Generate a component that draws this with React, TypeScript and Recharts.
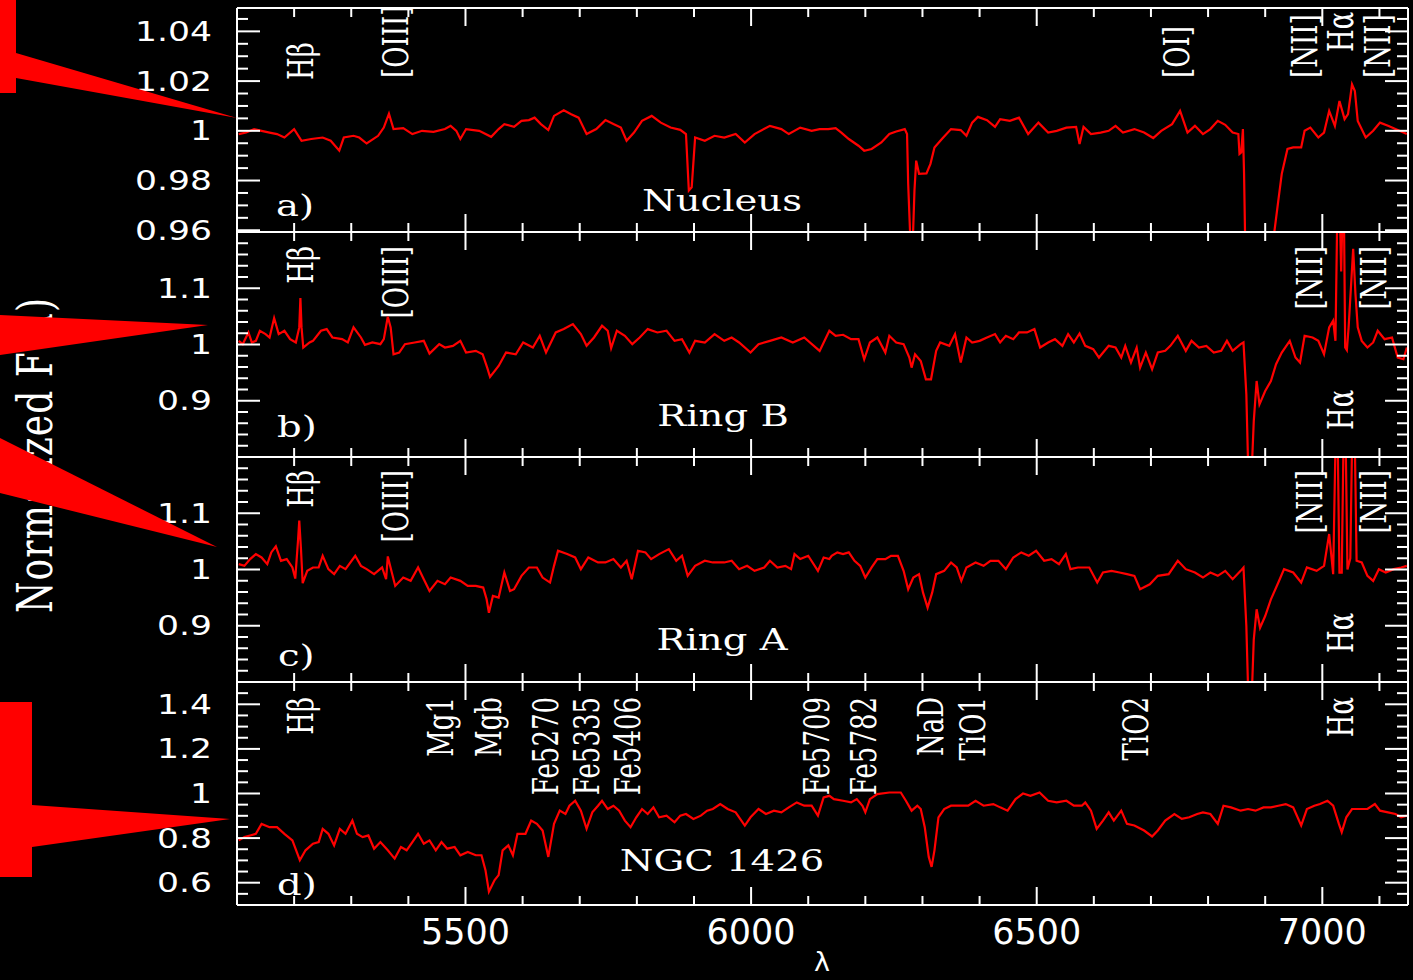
import React from 'react';
import { LineChart, Line, XAxis, YAxis, ReferenceLine } from 'recharts';

document.body.style.margin = '0';
document.body.style.background = '#000';

// wavelength axis
const X_DOMAIN: [number, number] = [5100, 7150];
const X_TICKS = [
  5200, 5300, 5400, 5500, 5600, 5700, 5800, 5900, 6000, 6100, 6200,
  6300, 6400, 6500, 6600, 6700, 6800, 6900, 7000, 7100,
];
const X_MAJOR = [5500, 6000, 6500, 7000];

// y ticks per panel
const A_Y_TICKS = [
  0.96, 0.965, 0.97, 0.975, 0.98, 0.985, 0.99, 0.995, 1, 1.005, 1.01, 1.015,
  1.02, 1.025, 1.03, 1.035, 1.04, 1.045,
];
const A_Y_MAJOR = [0.96, 0.98, 1, 1.02, 1.04];
const BC_Y_TICKS = [
  0.82, 0.84, 0.86, 0.88, 0.9, 0.92, 0.94, 0.96, 0.98, 1, 1.02, 1.04, 1.06,
  1.08, 1.1, 1.12, 1.14, 1.16, 1.18,
];
const BC_Y_MAJOR = [0.9, 1, 1.1];
const D_Y_TICKS = [
  0.55, 0.6, 0.65, 0.7, 0.75, 0.8, 0.85, 0.9, 0.95, 1, 1.05, 1.1, 1.15, 1.2,
  1.25, 1.3, 1.35, 1.4, 1.45,
];
const D_Y_MAJOR = [0.6, 0.8, 1, 1.2, 1.4];

// spectra: [wavelength, normalized flux]
const NUCLEUS: [number, number][] = [
  [5103, 0.9987], [5116, 0.9993], [5130, 1.0007], [5143, 1.0], [5157, 0.9993], [5170, 0.9987],
  [5183, 0.9973], [5200, 1.0007], [5213, 0.996], [5230, 0.9967], [5250, 0.9973], [5264, 0.996],
  [5279, 0.992], [5287, 0.9973], [5304, 0.998], [5314, 0.9973], [5327, 0.9949], [5347, 0.998],
  [5357, 1.0013], [5366, 1.0069], [5374, 1.0007], [5391, 1.0011], [5407, 0.9987], [5424, 1.0],
  [5444, 0.9996], [5464, 1.0007], [5474, 1.002], [5484, 1.0], [5491, 0.9967], [5501, 1.0007],
  [5524, 1.0], [5545, 0.9976], [5558, 1.0007], [5568, 1.0027], [5585, 1.0016], [5598, 1.004],
  [5611, 1.0043], [5621, 1.0053], [5632, 1.0027], [5645, 1.0003], [5655, 1.006], [5672, 1.0083],
  [5685, 1.0067], [5698, 1.0053], [5712, 0.9987], [5729, 1.0007], [5745, 1.0043], [5759, 1.0027],
  [5772, 1.0013], [5782, 0.996], [5795, 0.9993], [5809, 1.004], [5826, 1.006], [5842, 1.0033],
  [5859, 1.0013], [5876, 1.0004], [5886, 0.9987], [5891, 0.976], [5896, 0.9773], [5902, 0.9973],
  [5919, 0.996], [5936, 0.998], [5953, 0.9973], [5973, 0.9987], [5989, 0.9953], [6006, 0.9987],
  [6033, 1.002], [6053, 1.0007], [6066, 0.9987], [6086, 1.0013], [6106, 1.0], [6120, 1.0007],
  [6135, 1.0007], [6148, 1.0011], [6158, 0.9993], [6171, 0.9967], [6188, 0.994], [6198, 0.992],
  [6211, 0.9927], [6228, 0.9953], [6242, 0.9987], [6254, 0.9997], [6269, 1.0007], [6273, 0.9987],
  [6275, 0.9787], [6279, 0.955], [6283, 0.955], [6286, 0.976], [6289, 0.988], [6294, 0.9827],
  [6307, 0.9829], [6314, 0.9867], [6321, 0.9933], [6334, 0.9967], [6350, 1.0007], [6367, 1.0003],
  [6377, 0.998], [6387, 1.0033], [6397, 1.0056], [6413, 1.0043], [6427, 1.0016], [6436, 1.0047],
  [6453, 1.004], [6469, 1.0053], [6485, 0.9987], [6503, 1.0033], [6520, 0.9993], [6535, 1.0],
  [6552, 1.0013], [6569, 1.0016], [6575, 0.9947], [6582, 1.0016], [6595, 0.9987], [6612, 0.9993],
  [6626, 1.0], [6638, 1.002], [6651, 0.9993], [6671, 1.0007], [6688, 0.9993], [6704, 0.9971],
  [6718, 1.0], [6737, 1.0027], [6751, 1.008], [6764, 0.9993], [6777, 1.002], [6791, 0.9987],
  [6804, 1.0007], [6817, 1.004], [6830, 1.0024], [6843, 0.9993], [6853, 0.9987], [6855, 0.9907],
  [6858, 0.9913], [6861, 1.0007], [6863, 0.9827], [6865, 0.955], [6890, 0.95], [6916, 0.9593],
  [6923, 0.972], [6929, 0.9827], [6939, 0.9927], [6949, 0.9933], [6963, 0.9933], [6969, 1.0],
  [6979, 1.0013], [6993, 0.9973], [7003, 0.9993], [7012, 1.008], [7022, 1.002], [7030, 1.012],
  [7039, 1.0047], [7045, 1.0067], [7052, 1.0187], [7057, 1.016], [7062, 1.004], [7076, 0.9973],
  [7089, 1.0], [7101, 1.0033], [7115, 1.002], [7128, 1.0007], [7148, 0.9987],
];

const RING_B: [number, number][] = [
  [5103, 1.0065], [5110, 1.0006], [5120, 1.0214], [5126, 1.0036], [5133, 1.0065], [5140, 1.0244],
  [5150, 1.0185], [5157, 1.0125], [5165, 1.047], [5173, 1.0185], [5183, 1.0244], [5193, 1.0095],
  [5203, 1.0036], [5209, 1.0304], [5211, 1.0827], [5213, 1.0304], [5216, 0.9946], [5227, 1.0036],
  [5233, 1.0065], [5247, 1.0244], [5257, 1.0274], [5267, 1.0125], [5284, 1.0095], [5294, 1.0036],
  [5304, 1.0304], [5317, 1.0125], [5324, 0.9994], [5337, 1.0036], [5351, 1.0006], [5357, 1.0095],
  [5364, 1.0494], [5369, 1.0304], [5374, 0.9827], [5384, 0.9857], [5394, 1.0006], [5411, 1.0036],
  [5427, 1.0065], [5437, 0.9839], [5454, 1.0006], [5464, 0.9946], [5478, 0.9976], [5491, 1.0065],
  [5501, 0.9857], [5518, 0.9887], [5530, 0.9827], [5538, 0.9589], [5543, 0.9423], [5558, 0.9619],
  [5571, 0.9857], [5588, 0.9827], [5601, 1.0036], [5618, 0.9946], [5630, 1.0155], [5641, 0.9857],
  [5658, 1.0214], [5672, 1.0274], [5688, 1.0363], [5702, 1.0185], [5712, 0.9976], [5725, 1.0125],
  [5739, 1.0333], [5749, 1.0244], [5755, 0.9935], [5765, 1.0244], [5779, 1.0155], [5792, 1.0006],
  [5805, 1.0125], [5819, 1.0274], [5836, 1.0214], [5852, 1.0244], [5866, 1.0065], [5879, 1.0095],
  [5892, 0.9857], [5902, 1.0065], [5919, 1.0036], [5936, 1.0185], [5953, 1.0065], [5966, 1.0125],
  [5979, 1.0036], [5999, 0.9857], [6013, 1.0006], [6033, 1.0065], [6053, 1.0125], [6073, 1.0036],
  [6093, 1.0125], [6120, 0.9887], [6137, 1.0244], [6148, 1.0155], [6161, 1.0173], [6175, 1.0095],
  [6188, 1.0095], [6198, 0.9738], [6208, 1.0036], [6221, 1.0125], [6235, 0.9857], [6242, 1.0155],
  [6254, 1.0036], [6267, 1.0006], [6277, 0.9768], [6281, 0.9589], [6287, 0.9827], [6297, 0.9708],
  [6306, 0.9381], [6315, 0.9381], [6324, 0.9887], [6331, 1.0036], [6347, 0.9976], [6357, 1.0185],
  [6367, 0.9679], [6377, 1.0125], [6387, 1.0036], [6400, 1.0065], [6413, 1.0125], [6427, 1.0185],
  [6436, 1.0036], [6446, 1.0155], [6459, 1.0095], [6469, 1.0214], [6483, 1.0214], [6496, 1.0274],
  [6506, 0.9946], [6520, 1.0036], [6532, 1.0095], [6545, 0.9976], [6555, 1.0185], [6565, 1.0036],
  [6575, 1.0196], [6585, 0.9976], [6599, 0.9917], [6609, 0.9768], [6626, 0.9976], [6638, 0.9946],
  [6648, 0.9768], [6655, 0.9976], [6665, 0.9679], [6675, 0.9946], [6681, 0.9589], [6691, 0.9857],
  [6702, 0.956], [6712, 0.9857], [6725, 0.9887], [6734, 0.9976], [6747, 1.0155], [6761, 0.9887],
  [6771, 1.0065], [6784, 0.9946], [6797, 0.9976], [6810, 0.9857], [6823, 0.9887], [6833, 1.0065],
  [6843, 0.9887], [6857, 1.0006], [6862, 1.0036], [6867, 0.9113], [6870, 0.79], [6877, 0.79],
  [6880, 0.8637], [6885, 0.9351], [6890, 0.8935], [6900, 0.9173], [6910, 0.9351], [6919, 0.9649],
  [6929, 0.9857], [6943, 1.0065], [6953, 0.9768], [6961, 0.9679], [6969, 1.0155], [6983, 1.0125],
  [6993, 1.0065], [7003, 0.9827], [7012, 1.0304], [7019, 1.0423], [7023, 1.0065], [7026, 1.22],
  [7031, 1.22], [7033, 1.13], [7035, 1.22], [7038, 1.22], [7040, 0.995], [7043, 0.99],
  [7046, 1.03], [7050, 1.1], [7054, 1.17], [7058, 1.09], [7062, 1.0304], [7069, 1.0065],
  [7079, 0.9946], [7089, 1.0036], [7097, 1.0244], [7109, 1.0095], [7122, 1.0125], [7132, 0.9768],
  [7142, 0.9738], [7148, 0.9946],
];

const RING_A: [number, number][] = [
  [5103, 1.0095], [5113, 1.0065], [5123, 1.0185], [5133, 1.0274], [5143, 1.0214], [5153, 1.0095],
  [5160, 1.0304], [5168, 1.0411], [5177, 1.0155], [5187, 1.0185], [5197, 1.0036], [5202, 0.9839],
  [5207, 1.0542], [5209, 1.0869], [5212, 1.0363], [5215, 0.9756], [5223, 0.9976], [5233, 1.0036],
  [5243, 1.0036], [5250, 1.0244], [5260, 1.0006], [5270, 0.9917], [5280, 1.0065], [5290, 1.0006],
  [5307, 1.0244], [5317, 1.0065], [5327, 1.0006], [5340, 0.9917], [5354, 1.0036], [5361, 0.9827],
  [5364, 1.0232], [5371, 0.9946], [5377, 0.9708], [5391, 0.9857], [5404, 0.9798], [5417, 1.0036],
  [5427, 0.9827], [5437, 0.9619], [5451, 0.9798], [5464, 0.9738], [5474, 0.9857], [5491, 0.9798],
  [5504, 0.9708], [5518, 0.9708], [5531, 0.9679], [5537, 0.947], [5541, 0.9232], [5548, 0.953],
  [5558, 0.95], [5568, 0.9946], [5578, 0.9619], [5585, 0.9649], [5598, 0.9887], [5611, 1.0036],
  [5625, 1.0036], [5635, 0.9857], [5648, 0.9768], [5655, 1.0065], [5662, 1.0333], [5678, 1.0274],
  [5692, 1.0214], [5702, 1.0006], [5715, 1.0214], [5732, 1.0125], [5745, 1.0125], [5759, 1.0185],
  [5772, 1.0036], [5782, 1.0155], [5791, 0.9827], [5802, 1.0333], [5815, 1.0304], [5825, 1.0185],
  [5839, 1.0274], [5856, 1.0363], [5869, 1.0155], [5879, 1.0244], [5889, 0.9887], [5902, 1.0065],
  [5919, 1.0155], [5933, 1.0125], [5953, 1.0125], [5966, 1.0155], [5979, 1.0006], [5993, 1.0065],
  [6006, 0.9976], [6023, 1.0036], [6033, 1.0155], [6046, 1.0036], [6060, 1.0065], [6070, 1.0006],
  [6076, 1.0274], [6086, 1.0185], [6100, 1.0244], [6117, 0.9976], [6127, 1.0214], [6137, 1.0185],
  [6141, 1.0244], [6151, 1.0304], [6161, 1.0274], [6171, 1.0304], [6181, 1.0155], [6191, 1.0065],
  [6200, 0.9857], [6211, 1.0036], [6221, 1.0185], [6235, 1.0185], [6245, 1.0244], [6257, 1.0244],
  [6267, 0.9976], [6275, 0.9649], [6284, 0.9857], [6294, 0.9917], [6301, 0.9589], [6309, 0.9321],
  [6317, 0.9589], [6324, 0.9917], [6338, 0.9976], [6350, 1.0125], [6360, 1.0036], [6368, 0.9798],
  [6377, 1.0036], [6393, 1.0125], [6407, 1.0065], [6419, 1.0155], [6433, 1.0155], [6446, 1.0006],
  [6459, 1.0214], [6473, 1.0304], [6486, 1.0244], [6499, 1.0333], [6513, 1.0155], [6526, 1.0185],
  [6539, 1.0095], [6551, 1.0274], [6559, 1.0006], [6572, 1.0036], [6592, 1.0036], [6606, 0.9768],
  [6616, 0.9946], [6631, 0.9976], [6645, 0.9946], [6658, 0.9917], [6671, 0.9887], [6681, 0.9649],
  [6698, 0.9738], [6712, 0.9887], [6731, 0.9917], [6747, 1.0155], [6761, 1.0006], [6777, 0.9946],
  [6791, 0.9857], [6804, 0.9946], [6817, 0.9887], [6830, 0.9976], [6843, 0.9827], [6857, 0.9976],
  [6862, 1.0036], [6867, 0.8994], [6870, 0.79], [6877, 0.79], [6880, 0.8756], [6885, 0.9292],
  [6891, 0.8964], [6900, 0.9173], [6910, 0.947], [6923, 0.9768], [6933, 1.0006], [6949, 0.9946],
  [6963, 0.9768], [6973, 1.0036], [6990, 0.9976], [7003, 1.0065], [7012, 1.0631], [7019, 0.9917],
  [7023, 1.22], [7027, 1.22], [7030, 0.9946], [7034, 0.9946], [7037, 1.22], [7041, 1.22],
  [7044, 1.0], [7049, 1.02], [7052, 1.22], [7057, 1.22], [7060, 1.0155], [7069, 1.0125],
  [7079, 0.9887], [7089, 0.9798], [7099, 1.0006], [7111, 0.9946], [7125, 1.0006], [7138, 1.0036],
  [7148, 1.0065],
];

const NGC1426: [number, number][] = [
  [5103, 0.7896], [5113, 0.8044], [5123, 0.8119], [5133, 0.8193], [5143, 0.8637], [5157, 0.8489],
  [5170, 0.8489], [5183, 0.8193], [5197, 0.7896], [5210, 0.7007], [5220, 0.7452], [5233, 0.7748],
  [5243, 0.7822], [5250, 0.8415], [5260, 0.8193], [5270, 0.7674], [5280, 0.8415], [5290, 0.8193],
  [5302, 0.8785], [5310, 0.8193], [5320, 0.8044], [5330, 0.8119], [5340, 0.7526], [5351, 0.7822],
  [5364, 0.7452], [5376, 0.7081], [5387, 0.76], [5397, 0.7452], [5407, 0.7822], [5417, 0.8193],
  [5427, 0.7748], [5437, 0.7896], [5448, 0.7452], [5458, 0.7822], [5468, 0.7526], [5481, 0.76],
  [5491, 0.723], [5504, 0.7378], [5518, 0.723], [5528, 0.723], [5535, 0.6563], [5541, 0.56],
  [5551, 0.6119], [5558, 0.6341], [5565, 0.7452], [5575, 0.7674], [5583, 0.723], [5591, 0.8193],
  [5605, 0.8193], [5615, 0.8785], [5625, 0.8637], [5635, 0.8341], [5645, 0.7156], [5655, 0.8637],
  [5665, 0.923], [5675, 0.9081], [5682, 0.9452], [5692, 0.9674], [5702, 0.923], [5712, 0.8415],
  [5722, 0.9156], [5732, 0.9452], [5739, 0.9674], [5749, 0.9304], [5759, 0.9452], [5769, 0.923],
  [5779, 0.8785], [5789, 0.8489], [5799, 0.8933], [5809, 0.9304], [5819, 0.9081], [5829, 0.9378],
  [5839, 0.8933], [5852, 0.9007], [5866, 0.8711], [5876, 0.9007], [5886, 0.9081], [5899, 0.8859],
  [5912, 0.9007], [5923, 0.923], [5933, 0.9304], [5946, 0.9526], [5959, 0.9304], [5973, 0.9156],
  [5989, 0.8563], [5999, 0.8933], [6013, 0.9304], [6026, 0.9081], [6040, 0.923], [6053, 0.9156],
  [6066, 0.9378], [6080, 0.96], [6093, 0.9452], [6106, 0.9452], [6117, 0.9007], [6127, 0.9822],
  [6137, 0.9896], [6145, 0.9748], [6161, 0.9674], [6175, 0.96], [6185, 0.9748], [6195, 0.9452],
  [6200, 0.9156], [6208, 0.9748], [6221, 0.997], [6242, 1.0044], [6262, 1.0044], [6271, 0.9674],
  [6281, 0.923], [6291, 0.9452], [6297, 0.9304], [6304, 0.8489], [6311, 0.7156], [6316, 0.6711],
  [6321, 0.7452], [6328, 0.8933], [6338, 0.9304], [6350, 0.9452], [6367, 0.9452], [6380, 0.9452],
  [6393, 0.9674], [6407, 0.9452], [6424, 0.9526], [6436, 0.9378], [6449, 0.923], [6463, 0.9748],
  [6476, 1.0], [6489, 0.9896], [6505, 1.0044], [6520, 0.9674], [6535, 0.96], [6552, 0.9674],
  [6565, 0.9452], [6579, 0.9452], [6585, 0.96], [6595, 0.923], [6605, 0.8415], [6616, 0.8785],
  [6626, 0.9156], [6635, 0.8785], [6648, 0.923], [6658, 0.8637], [6671, 0.8563], [6688, 0.8341],
  [6702, 0.8074], [6712, 0.8341], [6725, 0.8785], [6741, 0.9081], [6754, 0.8859], [6767, 0.8933],
  [6781, 0.9081], [6791, 0.9156], [6804, 0.9081], [6817, 0.8637], [6827, 0.9452], [6840, 0.9378],
  [6857, 0.923], [6870, 0.9304], [6883, 0.923], [6897, 0.9378], [6910, 0.9378], [6923, 0.9452],
  [6936, 0.9526], [6949, 0.9378], [6963, 0.8563], [6973, 0.9304], [6986, 0.9452], [6996, 0.9526],
  [7009, 0.9674], [7019, 0.9452], [7029, 0.8637], [7034, 0.8267], [7042, 0.8933], [7052, 0.9304],
  [7065, 0.9304], [7079, 0.9304], [7092, 0.9526], [7101, 0.923], [7115, 0.9156], [7128, 0.9081],
  [7138, 0.8933], [7148, 0.9007],
];

// line identifications (name, wavelength on the plot axis)
const NUCLEUS_LINES = [
  { name: 'Hβ', w: 5212 }, { name: '[OIII]', w: 5378 }, { name: '[OI]', w: 6746 },
  { name: '[NII]', w: 6970 }, { name: 'Hα', w: 7033 }, { name: '[NII]', w: 7098 },
];
const RING_LINES = [
  { name: 'Hβ', w: 5212 }, { name: '[OIII]', w: 5378 }, { name: '[NII]', w: 6979 },
  { name: 'Hα', w: 7033 }, { name: '[NII]', w: 7091 },
];
const INDEX_LINES = [
  { name: 'Hβ', w: 5212 }, { name: 'Mg1', w: 5457 }, { name: 'Mgb', w: 5541 },
  { name: 'Fe5270', w: 5641 }, { name: 'Fe5335', w: 5713 }, { name: 'Fe5406', w: 5785 },
  { name: 'Fe5709', w: 6115 }, { name: 'Fe5782', w: 6198 }, { name: 'NaD', w: 6315 },
  { name: 'TiO1', w: 6389 }, { name: 'TiO2', w: 6674 }, { name: 'Hα', w: 7033 },
];

const WHITE = '#ffffff';
const RED = '#ff0000';
const SX = 1.33; // the original plot text is stretched horizontally
const PAD = 14; // room above/below each panel for edge labels

type Place = { anchor: 'start' | 'end'; dy: number };
const placeLabel = (panel: string, name: string): Place => {
  if (panel === 'a') {
    if (name === 'Hα') return { anchor: 'start', dy: 44 };
    if (name === 'Hβ') return { anchor: 'start', dy: 72 };
    return { anchor: 'start', dy: 70 };
  }
  if (panel === 'b') return name === 'Hα' ? { anchor: 'start', dy: 198 } : { anchor: 'end', dy: 14 };
  if (panel === 'c') return name === 'Hα' ? { anchor: 'start', dy: 196 } : { anchor: 'end', dy: 13 };
  return { anchor: 'end', dy: 15 };
};

const makeXTick = (dir: number, labels: boolean) => (p: any) => {
  const v = p.payload.value;
  const major = X_MAJOR.includes(v);
  const len = major ? 18 : 9;
  return (
    <g>
      <line x1={p.x} x2={p.x} y1={p.y} y2={p.y + dir * len} stroke={WHITE} strokeWidth={2} />
      {labels && major && (
        <text x={p.x} y={p.y + 39} textAnchor="middle" fontFamily="DejaVu Sans" fontSize={35} fill={WHITE}>
          {v}
        </text>
      )}
    </g>
  );
};

const makeYTick = (dir: number, majors: number[], labels: boolean) => (p: any) => {
  const v = p.payload.value;
  const major = majors.includes(v);
  const len = major ? 23 : 11;
  return (
    <g>
      <line x1={p.x} x2={p.x + dir * len} y1={p.y} y2={p.y} stroke={WHITE} strokeWidth={2} />
      {labels && major && (
        <text
          transform={`translate(212,${p.y + 9.5}) scale(${SX},1)`}
          textAnchor="end"
          fontFamily="DejaVu Sans"
          fontSize={26}
          fill={WHITE}
        >
          {String(v)}
        </text>
      )}
    </g>
  );
};

const PANELS = [
  { key: 'a', series: NUCLEUS, top: 8, h: 224, y: [0.9593, 1.0494], ticks: A_Y_TICKS, major: A_Y_MAJOR, lines: NUCLEUS_LINES },
  { key: 'b', series: RING_B, top: 232, h: 225, y: [0.8, 1.2], ticks: BC_Y_TICKS, major: BC_Y_MAJOR, lines: RING_LINES },
  { key: 'c', series: RING_A, top: 457, h: 225, y: [0.8, 1.2], ticks: BC_Y_TICKS, major: BC_Y_MAJOR, lines: RING_LINES },
  { key: 'd', series: NGC1426, top: 682, h: 223, y: [0.5, 1.5], ticks: D_Y_TICKS, major: D_Y_MAJOR, lines: INDEX_LINES },
];

function Panel({ cfg }: { cfg: (typeof PANELS)[number] }) {
  const last = cfg.key === 'd';
  const data = cfg.series.map(([w, f]) => ({ w, f }));
  const bottom = last ? 75 : PAD;
  return (
    <div style={{ position: 'absolute', left: 0, top: cfg.top - 1 - PAD }}>
      <LineChart
        width={1413}
        height={cfg.h + 2 + PAD + bottom}
        data={data}
        margin={{ top: PAD, right: 4, bottom, left: 0 }}
      >
        <XAxis
          xAxisId="b"
          dataKey="w"
          type="number"
          domain={X_DOMAIN}
          allowDataOverflow
          ticks={X_TICKS}
          interval={0}
          height={1}
          tickSize={0}
          tickMargin={0}
          tickLine={false}
          axisLine={{ stroke: WHITE, strokeWidth: 2 }}
          tick={makeXTick(-1, last)}
        />
        <XAxis
          xAxisId="t"
          orientation="top"
          dataKey="w"
          type="number"
          domain={X_DOMAIN}
          allowDataOverflow
          ticks={X_TICKS}
          interval={0}
          height={1}
          tickSize={0}
          tickMargin={0}
          tickLine={false}
          axisLine={{ stroke: WHITE, strokeWidth: 2 }}
          tick={makeXTick(1, false)}
        />
        <YAxis
          yAxisId="l"
          type="number"
          domain={cfg.y}
          allowDataOverflow
          ticks={cfg.ticks}
          interval={0}
          width={237}
          tickSize={0}
          tickMargin={0}
          tickLine={false}
          axisLine={{ stroke: WHITE, strokeWidth: 2 }}
          tick={makeYTick(1, cfg.major, true)}
        />
        <YAxis
          yAxisId="r"
          orientation="right"
          type="number"
          domain={cfg.y}
          allowDataOverflow
          ticks={cfg.ticks}
          interval={0}
          width={1}
          tickSize={0}
          tickMargin={0}
          tickLine={false}
          axisLine={{ stroke: WHITE, strokeWidth: 2 }}
          tick={makeYTick(-1, cfg.major, false)}
        />
        {cfg.lines.map((l, i) => {
          const pl = placeLabel(cfg.key, l.name);
          return (
            <ReferenceLine
              key={`${l.name}-${i}`}
              xAxisId="b"
              yAxisId="l"
              x={l.w}
              stroke="none"
              label={(props: any) => {
                const vb = props.viewBox || {};
                return (
                  <text
                    transform={`translate(${vb.x},${vb.y + pl.dy}) scale(${SX},1) rotate(-90)`}
                    textAnchor={pl.anchor}
                    dominantBaseline="central"
                    fontFamily="DejaVu Serif"
                    fontSize={26}
                    fill={WHITE}
                  >
                    {l.name}
                  </text>
                );
              }}
            />
          );
        })}
        <Line
          xAxisId="b"
          yAxisId="l"
          type="linear"
          dataKey="f"
          stroke={RED}
          strokeWidth={2.2}
          dot={false}
          isAnimationActive={false}
        />
      </LineChart>
    </div>
  );
}

const serif = { fontFamily: 'DejaVu Serif', fontSize: 29, fill: WHITE };

export default function App() {
  return (
    <div style={{ position: 'relative', width: 1413, height: 980, background: '#000', overflow: 'hidden' }}>
      {PANELS.map((p) => (
        <Panel key={p.key} cfg={p} />
      ))}
      <svg width={1413} height={980} style={{ position: 'absolute', left: 0, top: 0, pointerEvents: 'none' }}>
        <text transform={`translate(276,216) scale(${SX},1)`} {...serif}>a)</text>
        <text transform={`translate(722,211) scale(${SX},1)`} textAnchor="middle" {...serif}>Nucleus</text>
        <text transform={`translate(277,437) scale(${SX},1)`} {...serif}>b)</text>
        <text transform={`translate(723,426) scale(${SX},1)`} textAnchor="middle" {...serif}>Ring B</text>
        <text transform={`translate(278,666) scale(${SX},1)`} {...serif}>c)</text>
        <text transform={`translate(722,650) scale(${SX},1)`} textAnchor="middle" {...serif}>Ring A</text>
        <text transform={`translate(277,895) scale(${SX},1)`} {...serif}>d)</text>
        <text transform={`translate(722,871) scale(${SX},1)`} textAnchor="middle" {...serif}>NGC 1426</text>
        <text x={822} y={971} textAnchor="middle" fontFamily="DejaVu Sans" fontSize={27} fill={WHITE}>λ</text>
        <text
          transform={`translate(52,613) scale(${SX},1) rotate(-90)`}
          fontFamily="DejaVu Serif"
          fontSize={36}
          textLength={315}
          lengthAdjust="spacing"
          fill={WHITE}
        >
          Normalized F(λ)
        </text>
        <polygon points="0,0 16,0 16,53 237,118 16,78 16,93 0,93" fill={RED} />
        <polygon points="0,315 208,325 0,355" fill={RED} />
        <polygon points="0,438 217,547 0,493" fill={RED} />
        <polygon points="0,702 32,702 32,805 230,819 32,847 32,877 0,877" fill={RED} />
      </svg>
    </div>
  );
}
